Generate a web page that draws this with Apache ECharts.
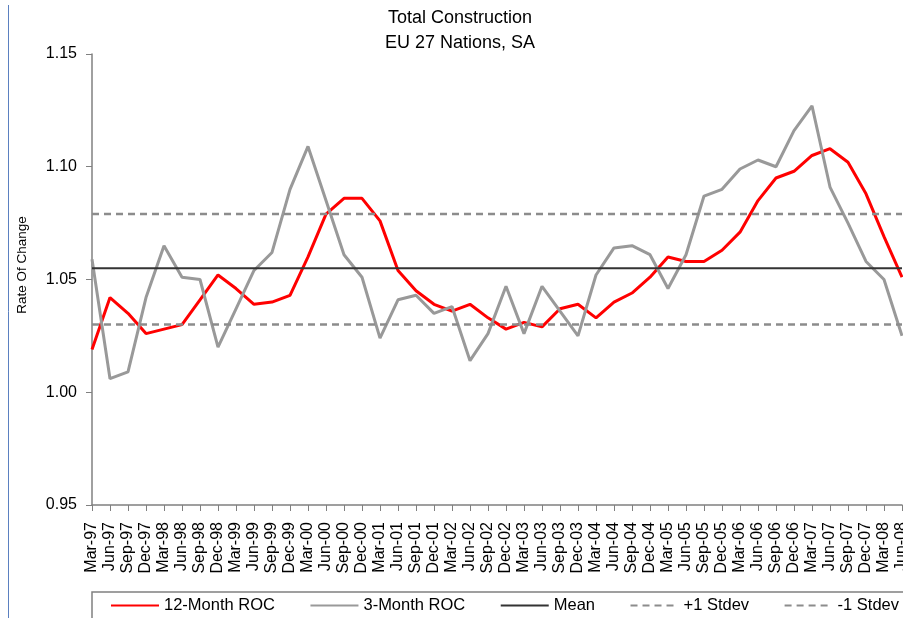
<!DOCTYPE html>
<html>
<head>
<meta charset="utf-8">
<title>Total Construction - EU 27 Nations, SA</title>
<script src="https://cdn.jsdelivr.net/npm/echarts@6/dist/echarts.min.js"></script>
<style>
  html, body { margin: 0; padding: 0; background: #fff; }
  #chart { width: 903px; height: 618px; }
</style>
</head>
<body>
<div id="chart"></div>
<script>
// quarterly categories, Mar-97 .. Jun-08
const categories = [
  'Mar-97', 'Jun-97', 'Sep-97', 'Dec-97', 'Mar-98', 'Jun-98', 'Sep-98', 'Dec-98',
  'Mar-99', 'Jun-99', 'Sep-99', 'Dec-99', 'Mar-00', 'Jun-00', 'Sep-00', 'Dec-00',
  'Mar-01', 'Jun-01', 'Sep-01', 'Dec-01', 'Mar-02', 'Jun-02', 'Sep-02', 'Dec-02',
  'Mar-03', 'Jun-03', 'Sep-03', 'Dec-03', 'Mar-04', 'Jun-04', 'Sep-04', 'Dec-04',
  'Mar-05', 'Jun-05', 'Sep-05', 'Dec-05', 'Mar-06', 'Jun-06', 'Sep-06', 'Dec-06',
  'Mar-07', 'Jun-07', 'Sep-07', 'Dec-07', 'Mar-08', 'Jun-08'
]

const roc12 = [
  1.019, 1.042, 1.035, 1.026, 1.028, 1.030, 1.041, 1.052,
  1.046, 1.039, 1.040, 1.043, 1.060, 1.079, 1.086, 1.086,
  1.076, 1.054, 1.045, 1.039, 1.036, 1.039, 1.033, 1.028,
  1.031, 1.029, 1.037, 1.039, 1.033, 1.040, 1.044, 1.051,
  1.060, 1.058, 1.058, 1.063, 1.071, 1.085, 1.095, 1.098,
  1.105, 1.108, 1.102, 1.088, 1.069, 1.051
]

const roc3 = [
  1.059, 1.006, 1.009, 1.042, 1.065, 1.051, 1.050, 1.020,
  1.037, 1.054, 1.062, 1.090, 1.109, 1.085, 1.061, 1.051,
  1.024, 1.041, 1.043, 1.035, 1.038, 1.014, 1.026, 1.047,
  1.026, 1.047, 1.036, 1.025, 1.052, 1.064, 1.065, 1.061,
  1.046, 1.061, 1.087, 1.090, 1.099, 1.103, 1.100, 1.116,
  1.127, 1.091, 1.075, 1.058, 1.050, 1.025
]

const meanValue = 1.055
const plusStdev = 1.079
const minusStdev = 1.030

const yTicks = [0.95, 1.00, 1.05, 1.10, 1.15]

const font = "'Liberation Sans', Arial, sans-serif"

const chart = echarts.init(document.getElementById('chart'), null, { renderer: 'canvas' })

const flat = v => categories.map(() => v)

const option = {
  animation: false,
  backgroundColor: '#fff',
  textStyle: { fontFamily: font, color: '#000' },
  title: {
    text: 'Total Construction\nEU 27 Nations, SA',
    left: 460,
    top: 6,
    textAlign: 'center',
    padding: 0,
    textStyle: { fontFamily: font, fontSize: 18, fontWeight: 'normal', color: '#000', lineHeight: 25 }
  },
  grid: {
    left: 92,
    right: 1,
    top: 54,
    bottom: 113,
    outerBoundsMode: 'none'
  },
  legend: {
    left: 92,
    top: 592,
    width: 840,
    padding: [5, 40, 30, 18],
    itemWidth: 48,
    itemHeight: 12,
    itemGap: 34.5,
    borderColor: '#808080',
    borderWidth: 1.5,
    // no marker on the legend lines
    itemStyle: { opacity: 0 },
    textStyle: { fontFamily: font, fontSize: 16.5, color: '#000' },
    data: ['12-Month ROC', '3-Month ROC', 'Mean', '+1 Stdev', '-1 Stdev']
  },
  graphic: [
    // page edge
    { type: 'line', shape: { x1: 8.5, y1: 5, x2: 8.5, y2: 618 }, style: { stroke: '#5b80c0', lineWidth: 1 }, silent: true },
    {
      type: 'text', x: 22, y: 265, rotation: Math.PI / 2, silent: true,
      style: { text: 'Rate Of Change', fontFamily: font, fontSize: 13.5, fill: '#000', align: 'center', verticalAlign: 'middle' }
    }
  ],
  xAxis: {
    type: 'category',
    data: categories,
    boundaryGap: false,
    axisLine: { lineStyle: { color: '#808080', width: 1.5 } },
    axisTick: { length: 6, lineStyle: { color: '#808080' } },
    axisLabel: { rotate: 90, interval: 0, margin: 17, fontSize: 16, color: '#000', fontFamily: font },
    splitLine: { show: false }
  },
  yAxis: {
    type: 'value',
    min: yTicks[0],
    max: yTicks[yTicks.length - 1],
    interval: 0.05,
    axisLine: { show: true, lineStyle: { color: '#808080', width: 1.5 } },
    axisTick: { show: true, length: 6, lineStyle: { color: '#808080' } },
    axisLabel: { margin: 15, fontSize: 16, color: '#000', fontFamily: font, formatter: v => v.toFixed(2) },
    splitLine: { show: false }
  },
  series: [
    {
      name: '12-Month ROC', type: 'line', data: roc12, symbol: 'none',
      lineStyle: { color: '#ff0000', width: 3 }, itemStyle: { color: '#ff0000' }
    },
    {
      name: '3-Month ROC', type: 'line', data: roc3, symbol: 'none',
      lineStyle: { color: '#999999', width: 3 }, itemStyle: { color: '#999999' }
    },
    {
      name: 'Mean', type: 'line', data: flat(meanValue), symbol: 'none',
      lineStyle: { color: '#333333', width: 2 }, itemStyle: { color: '#333333' }
    },
    {
      name: '+1 Stdev', type: 'line', data: flat(plusStdev), symbol: 'none',
      lineStyle: { color: '#8c8c8c', width: 2.5, type: [7, 5] }, itemStyle: { color: '#8c8c8c' }
    },
    {
      name: '-1 Stdev', type: 'line', data: flat(minusStdev), symbol: 'none',
      lineStyle: { color: '#8c8c8c', width: 2.5, type: [7, 5] }, itemStyle: { color: '#8c8c8c' }
    }
  ]
}

chart.setOption(option)
</script>
</body>
</html>
